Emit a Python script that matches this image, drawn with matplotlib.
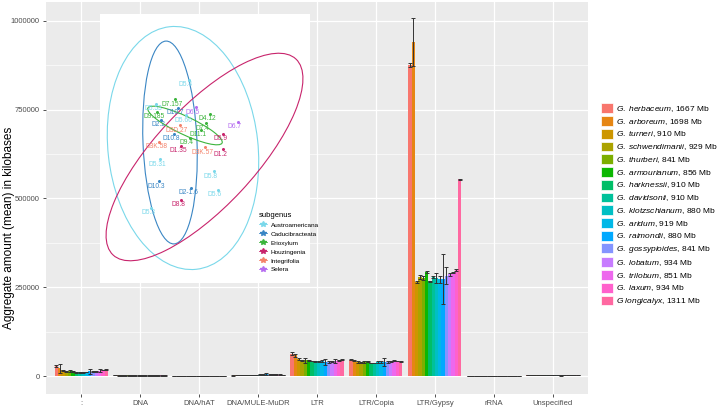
import math
import numpy as np
import matplotlib
matplotlib.use('Agg')
import matplotlib.pyplot as plt
from matplotlib.patches import Patch, Ellipse
from matplotlib.lines import Line2D

plt.rcParams['font.family'] = ['Liberation Sans', 'DejaVu Sans']
plt.rcParams['mathtext.fontset'] = 'custom'
plt.rcParams['mathtext.it'] = 'Liberation Sans:italic'
plt.rcParams['mathtext.rm'] = 'Liberation Sans'

# ---- bar chart data ----
categories = [':', 'DNA', 'DNA/hAT', 'DNA/MULE-MuDR', 'LTR', 'LTR/Copia',
              'LTR/Gypsy', 'rRNA', 'Unspecified']
species = ['G. herbaceum', 'G. arboreum', 'G. turneri', 'G. schwendimanii',
           'G. thurberi', 'G. armourianum', 'G. harknessii', 'G. davidsonii',
           'G. klotzschianum', 'G. aridum', 'G. raimondii', 'G. gossypioides',
           'G. lobatum', 'G. trilobum', 'G. laxum', 'G longicalyx']
genome_mb = [1667, 1698, 910, 929, 841, 856, 910, 910, 880, 919, 880, 841,
             934, 851, 934, 1311]

val_unknown = [27000, 22000, 16000, 13000, 14000, 13000, 10000, 10000, 10000,
               11000, 13000, 12000, 13000, 15000, 17000, 19000]
val_dna = [1800, 1700, 1500, 1400, 1500, 1400, 1300, 1300, 1300, 1400, 1400,
           1300, 1400, 1400, 1500, 1600]
val_hat = [1100, 1000, 900, 900, 900, 900, 800, 800, 800, 900, 900, 800, 900,
           900, 900, 1000]
val_mule = [1500, 2000, 2500, 3000, 3000, 3500, 3500, 3500, 4000, 4000, 4500,
            4000, 4500, 4500, 4000, 3500]
val_ltr = [63000, 58000, 47000, 43000, 44000, 44000, 42000, 41000, 41000,
           42000, 39000, 39000, 41000, 43000, 44000, 46000]
val_copia = [46000, 44000, 39000, 39000, 39000, 41000, 37000, 37000, 39000,
             39000, 40000, 39000, 41000, 43000, 42000, 41000]
val_gypsy = [876000, 941000, 265000, 279000, 276000, 293000, 267000, 280000,
             276000, 272000, 274000, 282000, 286000, 291000, 298000, 554000]
val_rrna = [1200, 1100, 1000, 1000, 900, 900, 900, 900, 900, 900, 1000, 900,
            900, 900, 1000, 1000]
val_unspec = [2500, 2800, 2600, 2500, 2400, 2300, 2200, 2200, 2300, 2400,
              2600, 2500, 2300, 2200, 2100, 2000]

err_unknown = [3000, 13000, 1500, 1500, 2500, 1000, 500, 500, 500, 1000,
               6000, 1000, 1000, 4000, 1000, 1000]
err_dna = [300] * 16
err_hat = [300] * 16
err_mule = [300, 300, 300, 300, 500, 300, 300, 300, 300, 500, 3000, 500, 300,
            300, 300, 300]
err_ltr = [4000, 5000, 3000, 2000, 8000, 2000, 1000, 1000, 1500, 2000, 8000,
           2000, 1000, 5000, 1000, 1000]
err_copia = [2000, 2000, 2000, 1500, 2000, 1500, 1000, 1000, 2000, 2000,
             12000, 2000, 1000, 1500, 1000, 1000]
err_gypsy = [5000, 68000, 3000, 5000, 5000, 2000, 2000, 3000, 15000, 10000,
             70000, 24000, 5000, 2000, 2000, 2000]
err_rrna = [200] * 16
err_unspec = [300, 300, 300, 300, 300, 300, 300, 300, 300, 300, 1500, 300,
              300, 300, 300, 300]

values = [val_unknown, val_dna, val_hat, val_mule, val_ltr, val_copia,
          val_gypsy, val_rrna, val_unspec]
errors = [err_unknown, err_dna, err_hat, err_mule, err_ltr, err_copia,
          err_gypsy, err_rrna, err_unspec]

# ---- inset (PCA-like) data ----
subgenera = ['Austroamericana', 'Caducibracteata', 'Erioxylum', 'Houzingenia',
             'Integrifolia', 'Selera']
sub_colors = ['#7AD8EA', '#3A86C4', '#3CB43C', '#C8246C', '#F4826A', '#B56CF0']
pt_names = ['D5.4', 'D7.157', 'D5.53', 'D10.7', 'D6.5', 'D9.185', 'D5.66',
            'D4.12', 'D2.2', 'D3D.27', 'D7.4', 'D6.7', 'D10.8', 'D11.1',
            'D5.9', 'D3K.58', 'D9.4', 'D1.35', 'D3K.57', 'D1.2', 'D5.31',
            'D5.8', 'D10.3', 'D2-1.6', 'D5.6', 'D8.8', 'D5.3']
pt_pc1 = [-0.16, -0.72, -1.48, -0.6, 0.12, -1.44, -0.28, 0.68, -1.28, -0.52,
          0.52, 1.8, -0.76, 0.32, 1.2, -1.36, -0.12, -0.48, 0.48, 1.2, -1.32,
          0.84, -1.36, -0.08, 1.0, -0.48, -1.68]
pt_pc2 = [2.6, 1.84, 1.64, 1.48, 1.52, 1.32, 1.2, 1.24, 1.0, 0.8, 0.88, 0.92,
          0.44, 0.6, 0.44, 0.12, 0.28, -0.04, -0.08, -0.16, -0.56, -1.04,
          -1.44, -1.72, -1.8, -2.2, -2.52]
pt_group = [0, 2, 0, 1, 5, 2, 0, 2, 1, 4, 2, 5, 1, 2, 3, 4, 2, 3, 4, 3, 0, 0,
            1, 1, 0, 3, 0]
# confidence ellipses: group, centre, width, height, angle
ell_group = [0, 1, 3, 2]
ell_cx = [-0.28, -0.8, 0.58, -0.2]
ell_cy = [0.08, 0.3, -0.28, 0.98]
ell_w = [6.0, 2.16, 10.72, 3.28]
ell_h = [9.76, 8.12, 4.0, 0.72]
ell_ang = [6.3, 2.3, 47, -25.3]


def hcl_hex(h, c=100, l=65):
    hr = math.radians(h)
    u = c * math.cos(hr)
    v = c * math.sin(hr)
    Xn, Yn, Zn = 95.047, 100.0, 108.883
    Y = Yn * ((l + 16) / 116) ** 3
    den = Xn + 15 * Yn + 3 * Zn
    up = u / (13 * l) + 4 * Xn / den
    vp = v / (13 * l) + 9 * Yn / den
    X = Y * 9 * up / (4 * vp)
    Z = Y * (12 - 3 * up - 20 * vp) / (4 * vp)
    x, y, z = X / 100, Y / 100, Z / 100
    rgb = [3.2404542 * x - 1.5371385 * y - 0.4985314 * z,
           -0.9692660 * x + 1.8760108 * y + 0.0415560 * z,
           0.0556434 * x - 0.2040259 * y + 1.0572252 * z]
    out = []
    for ch in rgb:
        ch = 12.92 * ch if ch <= 0.0031308 else 1.055 * ch ** (1 / 2.4) - 0.055
        out.append(min(max(ch, 0), 1))
    return tuple(out)


n = len(species)
colors = [hcl_hex(15 + 360 * i / n) for i in range(n)]

fig = plt.figure(figsize=(7.2, 4.08), dpi=100)
ax = fig.add_axes([46 / 720, 14 / 408, 542 / 720, 392 / 408])
ax.set_facecolor('#EBEBEB')
for s in ax.spines.values():
    s.set_visible(False)

bw = 0.9 / n
xc = np.arange(len(categories))
for j in range(n):
    xs = xc - 0.45 + (j + 0.5) * bw
    ys = [values[i][j] for i in range(len(categories))]
    es = [errors[i][j] for i in range(len(categories))]
    ax.bar(xs, ys, width=bw, color=colors[j], linewidth=0, zorder=2)
    ax.errorbar(xs, ys, yerr=es, fmt='none', ecolor='#333333', elinewidth=0.7,
                capsize=1.5, capthick=0.7, zorder=3)

ax.set_xlim(-0.6, len(categories) - 0.4)
ax.set_ylim(-50700, 1053500)
ax.set_yticks([0, 250000, 500000, 750000, 1000000])
ax.set_yticklabels(['0', '250000', '500000', '750000', '1000000'])
ax.set_yticks([125000, 375000, 625000, 875000], minor=True)
ax.set_xticks(xc)
ax.set_xticklabels(categories)
ax.grid(which='major', color='white', linewidth=0.9, zorder=0)
ax.grid(which='minor', axis='y', color='white', linewidth=0.45, zorder=0)
ax.set_axisbelow(True)
ax.tick_params(axis='both', which='major', labelsize=5.5, colors='#333333',
               labelcolor='#4D4D4D', length=2.5, width=0.6, pad=2)
ax.tick_params(which='minor', length=0)
ax.set_ylabel('Aggregate amount (mean) in kilobases', fontsize=8.5)
ax.yaxis.set_label_coords(-0.057, 0.423)

labels = [r'$\mathit{' + s.replace(' ', r'\ ') + '}$, ' + str(m) + ' Mb'
          for s, m in zip(species, genome_mb)]
handles = [Patch(facecolor=c, edgecolor='white', linewidth=0.5) for c in colors]
fig.legend(handles, labels, loc='upper left', bbox_to_anchor=(0.83, 0.755),
           frameon=False, fontsize=6, handlelength=1.5, handleheight=1.45,
           labelspacing=0.25, handletextpad=0.3, borderaxespad=0)

# ---- inset ----
ai = fig.add_axes([100 / 720, 125 / 408, 210 / 720, 269 / 408])
ai.set_facecolor('white')
ai.set_xlim(-3.6, 4.8)
ai.set_ylim(-5.32, 5.44)
ai.set_xticks([])
ai.set_yticks([])
for s in ai.spines.values():
    s.set_visible(False)

for g, cx, cy, w, h, a in zip(ell_group, ell_cx, ell_cy, ell_w, ell_h, ell_ang):
    ai.add_patch(Ellipse((cx, cy), w, h, angle=a, fill=False,
                         edgecolor=sub_colors[g], linewidth=0.8))

for name, px, py, g in zip(pt_names, pt_pc1, pt_pc2, pt_group):
    ai.plot(px + 0.1, py + 0.2, 'o', ms=1.2, color=sub_colors[g])
    ai.text(px, py, name, fontsize=4.8, color=sub_colors[g], ha='center',
            va='center')

sub_handles = [Line2D([0], [0], color=c, marker='*', ms=4, lw=0.6)
               for c in sub_colors]
leg = ai.legend(sub_handles, subgenera, loc='upper left',
                bbox_to_anchor=(0.745, 0.275), frameon=False, fontsize=4.6,
                title='subgenus', title_fontsize=5.5, handlelength=1.3,
                labelspacing=0.55, handletextpad=0.5, borderaxespad=0)
leg._legend_box.align = 'left'

fig.savefig('out.png', dpi=100)
